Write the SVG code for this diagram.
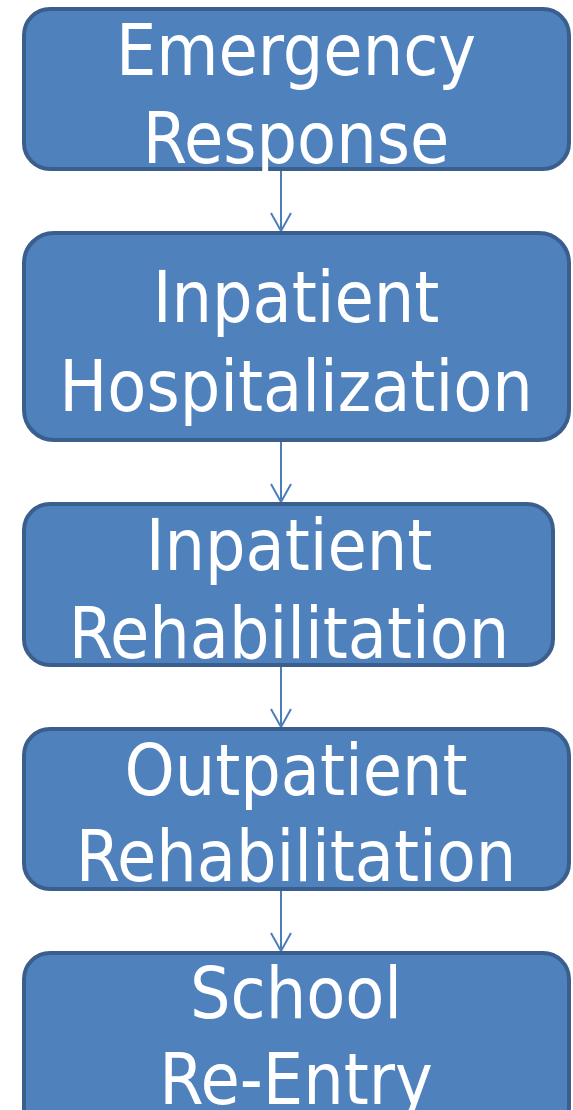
<svg xmlns="http://www.w3.org/2000/svg" width="573" height="1110" viewBox="0 0 573 1110">
<style>
.box{fill:#4f81bd;stroke:#3a5f8e;stroke-width:4}
.t{font-family:"DejaVu Sans Condensed","DejaVu Sans",sans-serif;font-size:71px;fill:#fff;text-anchor:middle}
.c{stroke:#4a7ebb;stroke-width:2;fill:none}
</style>
<defs>
<marker id="ah" markerWidth="24" markerHeight="24" refX="19" refY="11" orient="auto" markerUnits="userSpaceOnUse">
<path d="M1,1 L19,11 L1,21" fill="none" stroke="#4a7ebb" stroke-width="2"/>
</marker>
</defs>
<g id="connectors">
<line class="c" x1="281" y1="170" x2="281" y2="231" marker-end="url(#ah)"/>
<line class="c" x1="281" y1="441" x2="281" y2="502" marker-end="url(#ah)"/>
<line class="c" x1="281" y1="666" x2="281" y2="727" marker-end="url(#ah)"/>
<line class="c" x1="281" y1="890" x2="281" y2="951" marker-end="url(#ah)"/>
</g>
<g id="n1"><rect class="box" x="24" y="9" width="545" height="160" rx="26"/>
<text class="t" x="296" y="75">Emergency</text><text class="t" x="296" y="163">Response</text></g>
<g id="n2"><rect class="box" x="24" y="233" width="545" height="207" rx="30"/>
<text class="t" x="296" y="322">Inpatient</text><text class="t" x="296" y="411">Hospitalization</text></g>
<g id="n3"><rect class="box" x="24" y="504" width="529" height="161" rx="26"/>
<text class="t" x="289" y="570">Inpatient</text><text class="t" x="289" y="658">Rehabilitation</text></g>
<g id="n4"><rect class="box" x="24" y="729" width="545" height="160" rx="26"/>
<text class="t" x="296" y="795">Outpatient</text><text class="t" x="296" y="881">Rehabilitation</text></g>
<g id="n5"><rect class="box" x="24" y="953" width="545" height="180" rx="26"/>
<text class="t" x="296" y="1018">School</text><text class="t" x="296" y="1104">Re-Entry</text></g>
</svg>
